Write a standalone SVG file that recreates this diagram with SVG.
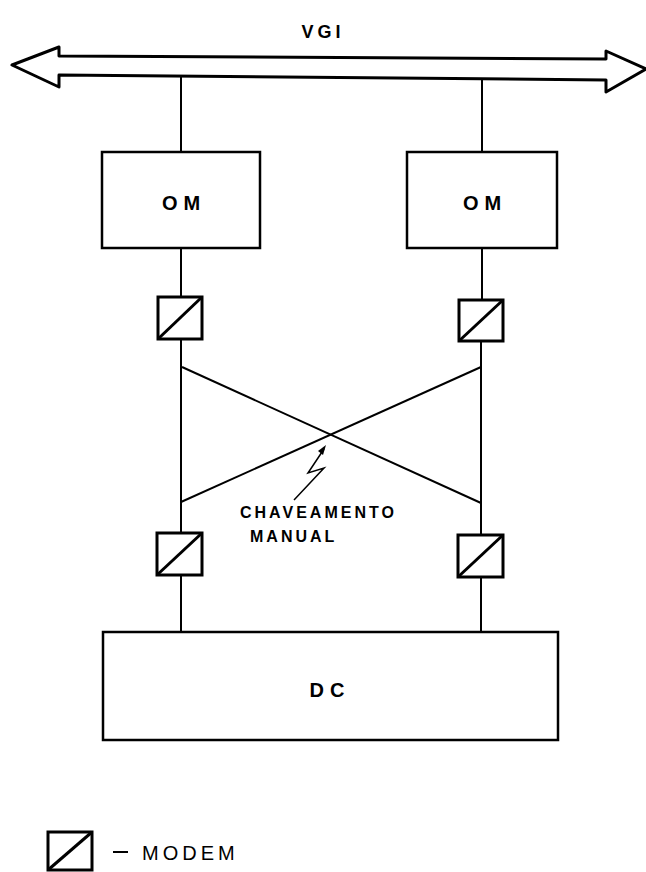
<svg xmlns="http://www.w3.org/2000/svg" width="646" height="872" viewBox="0 0 646 872">
<style>
.ln{stroke:#000;stroke-width:2;fill:none}
.bx{stroke:#000;stroke-width:2.5;fill:#fff}
.md{stroke:#000;stroke-width:3;fill:#fff}
.t{font-family:"Liberation Sans",Arial,sans-serif;font-weight:bold;fill:#000}
</style>
<rect width="646" height="872" fill="#fff"/>
<g id="vgi">
<path d="M12,65 L59,47 L59,56 L606,59 L606,51 L646,69 L606,92 L606,80 L59,75 L59,87 Z" stroke="#000" stroke-width="3" fill="#fff" stroke-linejoin="round"/>
<text class="t" x="323" y="38" font-size="18" text-anchor="middle" letter-spacing="4">VGI</text>
</g>
<g id="connectors">
<line class="ln" x1="181" y1="76" x2="181" y2="152"/>
<line class="ln" x1="482" y1="80" x2="482" y2="152"/>
<line class="ln" x1="181" y1="248" x2="181" y2="297"/>
<line class="ln" x1="482" y1="248" x2="482" y2="300"/>
<line class="ln" x1="181" y1="339" x2="181" y2="533"/>
<line class="ln" x1="481" y1="341" x2="481" y2="535"/>
<line class="ln" x1="181" y1="575" x2="181" y2="632"/>
<line class="ln" x1="481" y1="577" x2="481" y2="632"/>
<line class="ln" x1="182" y1="367" x2="481" y2="503"/>
<line class="ln" x1="481" y1="367" x2="181" y2="502"/>
<path d="M324,449 L308,473 L324,468 L294,500" stroke="#000" stroke-width="1.5" fill="none"/>
<path d="M326,445 L318,451 L323,455 Z" fill="#000"/>
</g>
<g id="om1">
<rect class="bx" x="102" y="152" width="158" height="96"/>
<text class="t" x="184" y="210" font-size="20" text-anchor="middle" letter-spacing="6">OM</text>
</g>
<g id="om2">
<rect class="bx" x="407" y="152" width="150" height="96"/>
<text class="t" x="485" y="210" font-size="20" text-anchor="middle" letter-spacing="6">OM</text>
</g>
<g id="modem1"><rect class="md" x="158" y="297" width="44" height="42"/><line class="md" x1="158" y1="339" x2="202" y2="297"/></g>
<g id="modem2"><rect class="md" x="459" y="300" width="44" height="41"/><line class="md" x1="459" y1="341" x2="503" y2="300"/></g>
<g id="modem3"><rect class="md" x="157" y="533" width="45" height="42"/><line class="md" x1="157" y1="575" x2="202" y2="533"/></g>
<g id="modem4"><rect class="md" x="458" y="535" width="45" height="42"/><line class="md" x1="458" y1="577" x2="503" y2="535"/></g>
<g id="chaveamento">
<text class="t" x="240" y="518" font-size="16" letter-spacing="3">CHAVEAMENTO</text>
<text class="t" x="250" y="542" font-size="16" letter-spacing="3">MANUAL</text>
</g>
<g id="dc">
<rect class="bx" x="103" y="632" width="455" height="108"/>
<text class="t" x="330" y="697" font-size="20" text-anchor="middle" letter-spacing="6">DC</text>
</g>
<g id="legend">
<rect class="md" x="48" y="832" width="44" height="38"/>
<line class="md" x1="48" y1="870" x2="92" y2="832"/>
<line x1="113" y1="852" x2="128" y2="852" stroke="#000" stroke-width="2"/>
<text x="142" y="860" font-family="Liberation Sans, Arial, sans-serif" font-size="20" letter-spacing="4" fill="#000">MODEM</text>
</g>
</svg>
